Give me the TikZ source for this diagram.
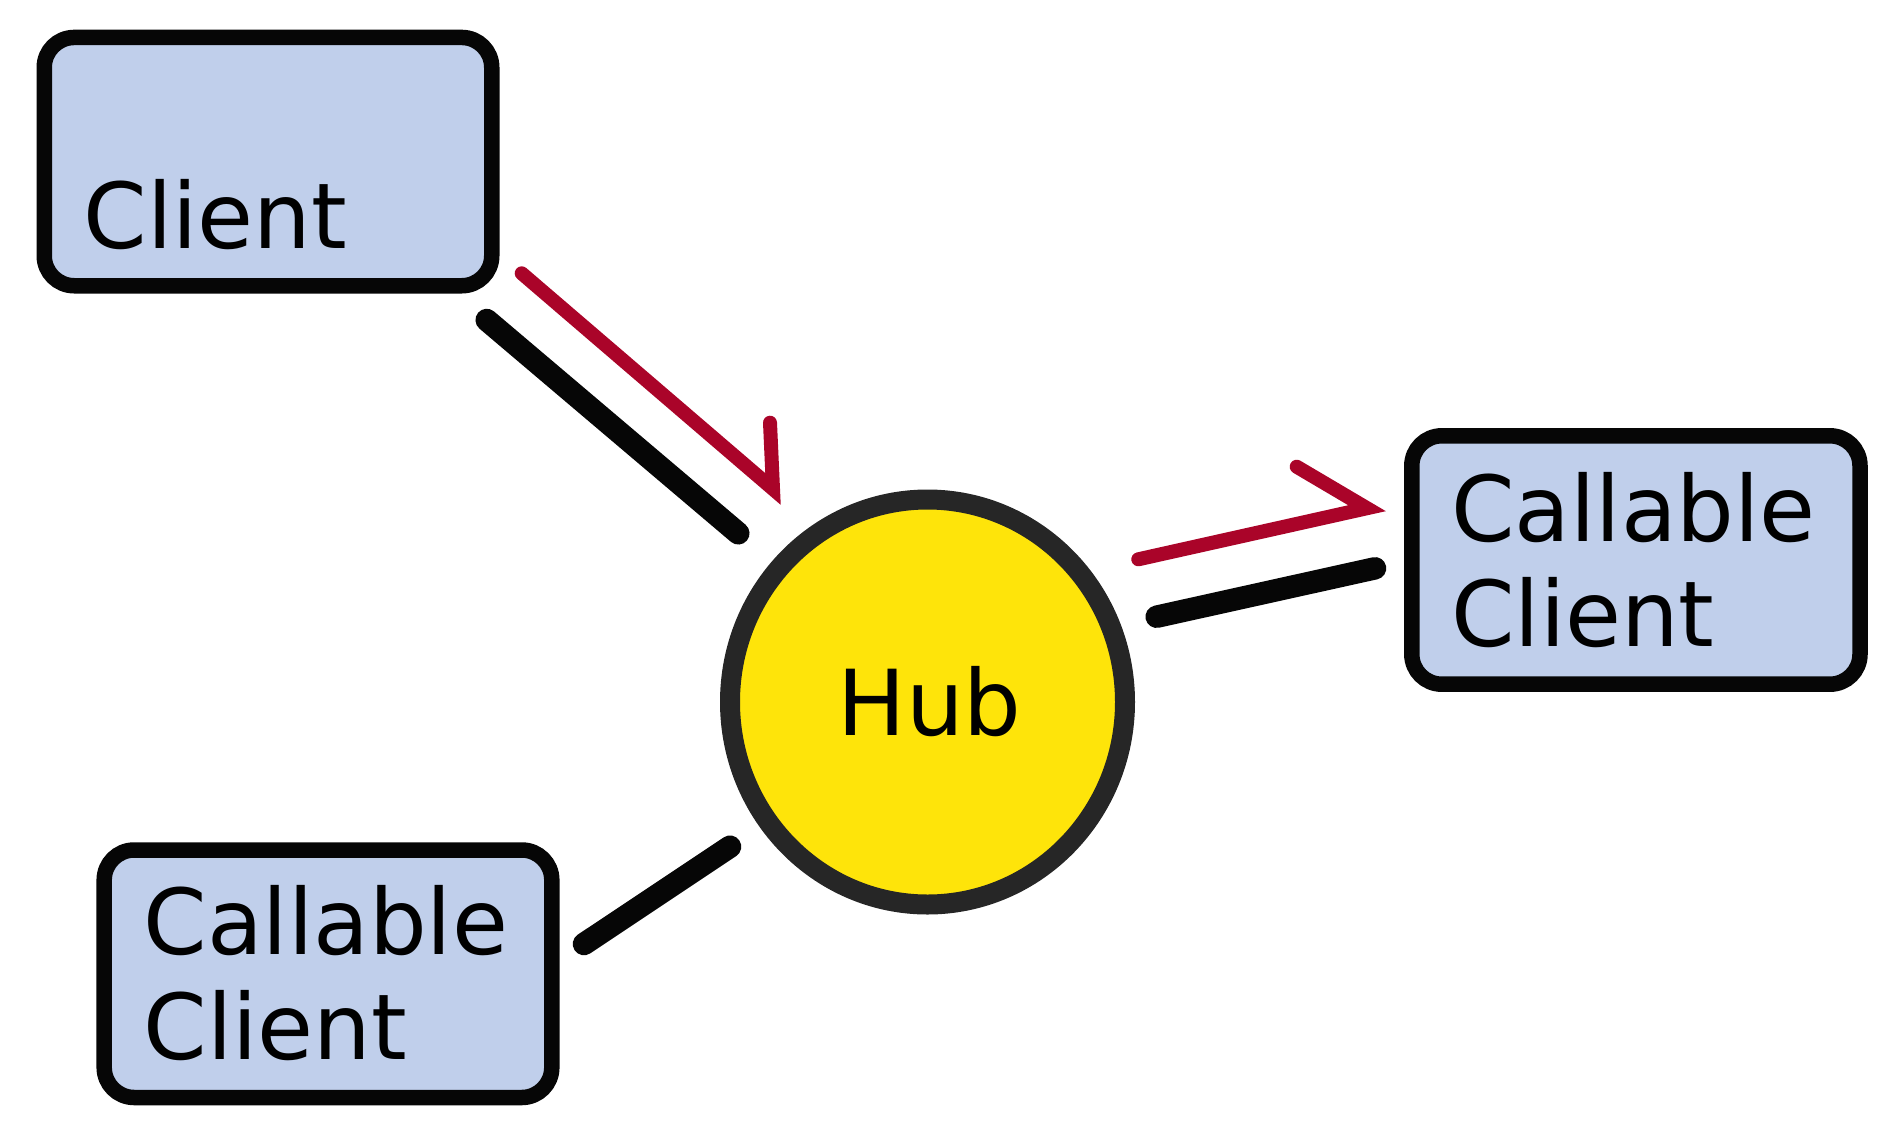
\documentclass[tikz,border=0pt]{standalone}
\usepackage{fontspec}
\setmainfont{DejaVu Sans}
\usetikzlibrary{shapes.geometric}
\definecolor{boxfill}{RGB}{192,207,235}
\definecolor{hubfill}{RGB}{254,228,10}
\definecolor{hubline}{RGB}{38,38,38}
\definecolor{flowred}{RGB}{170,4,41}
\definecolor{linkblack}{RGB}{6,6,6}
\tikzset{
  clientbox/.style={draw=linkblack, fill=boxfill, line width=15.5pt, rounded corners=30pt, inner sep=0pt, rectangle},
  lbl/.style={anchor=base west, inner sep=0pt, align=left, font=\fontsize{91}{105}\selectfont},
  hubnode/.style={draw=hubline, fill=hubfill, line width=20pt, ellipse, inner sep=0pt, minimum width=395pt, minimum height=405pt, font=\fontsize{91}{105}\selectfont},
  link/.style={draw=linkblack, line width=22.5pt, line cap=round},
  flow/.style={draw=flowred, line width=14pt, line cap=round, line join=miter, miter limit=10},
}
\begin{document}
\begin{tikzpicture}[x=1pt,y=-1pt]
\useasboundingbox (0,0) rectangle (1896,1136);
% boxes
\node[clientbox, minimum width=447.5pt, minimum height=248.3pt] (client) at (268,161.6) {};
\node[clientbox, minimum width=448.2pt, minimum height=248.4pt] (callR) at (1635.9,560) {};
\node[clientbox, minimum width=447.6pt, minimum height=247.5pt] (callL) at (328,973.75) {};
% labels (base = baseline of last line)
\node[lbl] (clientlbl) at (83.3,248.3) {Client};
\node[lbl] (callRlbl) at (1451,646) {Callable\\Client};
\node[lbl] (callLlbl) at (143.3,1059.3) {Callable\\Client};
% hub
\node[hubnode] (hub) at (927.5,702) {\raisebox{-2pt}{\hspace*{4pt}Hub}};
% connector end points
\coordinate (a1) at (486.7,320);
\coordinate (a2) at (738.3,533.3);
\coordinate (r1) at (521.7,273.3);
\coordinate (r1v) at (773,489);
\coordinate (r1b) at (770,422.7);
\coordinate (r2) at (1138.3,559.3);
\coordinate (r2v) at (1367,508.2);
\coordinate (r2b) at (1296.7,466.7);
\coordinate (b1) at (1156.7,616.7);
\coordinate (b2) at (1375,568.3);
\coordinate (c1) at (584,944);
\coordinate (c2) at (730,846.7);
% connectors
\draw[link] (a1) -- (a2);
\draw[flow] (r1) -- (r1v) -- (r1b);
\draw[flow] (r2) -- (r2v) -- (r2b);
\draw[link] (b1) -- (b2);
\draw[link] (c1) -- (c2);
\end{tikzpicture}
\end{document}
